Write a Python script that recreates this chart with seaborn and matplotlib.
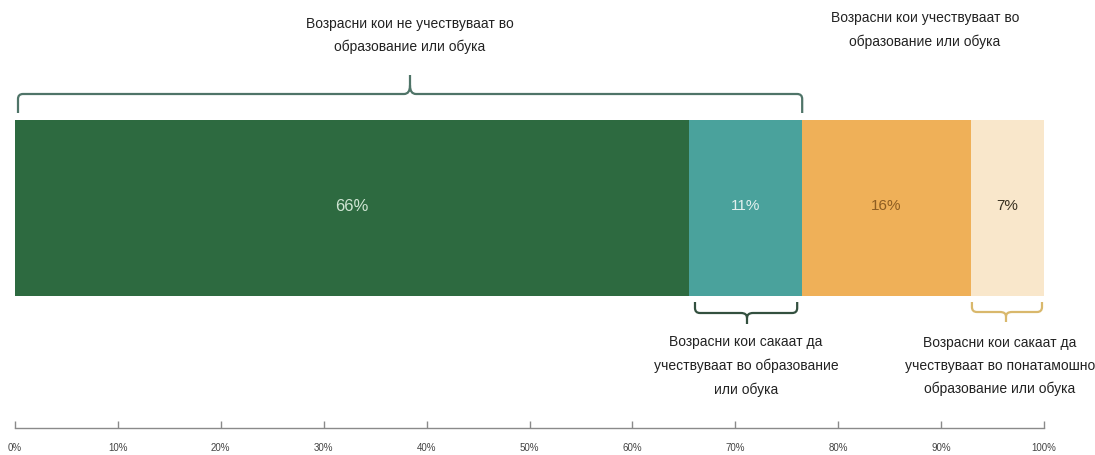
import matplotlib
matplotlib.use("Agg")
import matplotlib.pyplot as plt
from matplotlib.path import Path
from matplotlib.patches import PathPatch
import numpy as np
import pandas as pd
import seaborn as sns

# ---------------- data ----------------
segments = ["Не учествуваат", "Сакаат да учествуваат", "Учествуваат", "Сакаат понатамошно"]
values = [65.5, 11.0, 16.4, 7.1]
value_labels = ["66%", "11%", "16%", "7%"]
colors = ["#2d6a40", "#4aa29c", "#efb058", "#f9e7cb"]
label_colors = ["#cfe5d3", "#e3f1ef", "#8d5d22", "#3a3222"]
tick_values = [0, 10, 20, 30, 40, 50, 60, 70, 80, 90, 100]
tick_labels = [f"{t}%" for t in tick_values]

top_left_text = "Возрасни кои не учествуваат во\nобразование или обука"
top_right_text = "Возрасни кои учествуваат во\nобразование или обука"
bottom_mid_text = "Возрасни кои сакаат да\nучествуваат во образование\nили обука"
bottom_right_text = "Возрасни кои сакаат да\nучествуваат во понатамошно\nобразование или обука"

# ---------------- figure ----------------
sns.set_style("white")
plt.rcParams["font.family"] = ["Liberation Sans", "DejaVu Sans"]

W, H = 1095, 455
fig = plt.figure(figsize=(W / 100, H / 100), dpi=100)
ax = fig.add_axes([0, 0, 1, 1])

cum = np.cumsum(values)
df = pd.DataFrame({"grp": ["bar"] * len(segments), "segment": segments, "cum": cum})
order = list(reversed(segments))
pal = dict(zip(segments, colors))
sns.barplot(data=df, x="cum", y="grp", hue="segment", hue_order=order, dodge=False,
            palette=pal, saturation=1, width=0.8, linewidth=0, legend=False, ax=ax,
            orient="h", errorbar=None)

# pixel <-> data mapping
X0, PXU = 15.0, (1044.0 - 15.0) / 100.0
YC, PYU = 208.0, 176.0 / 0.8
ax.set_xlim(-X0 / PXU, (W - X0) / PXU)
ax.set_ylim((H - YC) / PYU, -YC / PYU)


def dx(px):
    return (px - X0) / PXU


def dy(py):
    return (py - YC) / PYU


def px_of(v):
    return X0 + v * PXU


# value labels
starts = np.concatenate([[0], cum[:-1]])
sizes = [12, 11, 11, 11]
for s, v, lab, c, fs in zip(starts, values, value_labels, label_colors, sizes):
    ax.text(s + v / 2, dy(206), lab, ha="center", va="center", fontsize=fs, color=c)


def brace(xl, xr, ybase, yline, ytip, xtip, color, r=5, tipw=6):
    """Brace in pixel coords (y downwards)."""
    sgn = 1 if yline > ybase else -1
    mid = yline + sgn * (abs(ytip - yline) * 0.45)
    pts = [
        (xl, ybase), (xl, yline - sgn * r),
        (xl, yline), (xl + r, yline),
        (xtip - tipw, yline),
        (xtip, yline), (xtip, mid),
        (xtip, ytip),
        (xtip, mid),
        (xtip, yline), (xtip + tipw, yline),
        (xr - r, yline),
        (xr, yline), (xr, yline - sgn * r),
        (xr, ybase),
    ]
    codes = [Path.MOVETO, Path.LINETO,
             Path.CURVE3, Path.CURVE3,
             Path.LINETO,
             Path.CURVE3, Path.CURVE3,
             Path.LINETO,
             Path.MOVETO,
             Path.CURVE3, Path.CURVE3,
             Path.LINETO,
             Path.CURVE3, Path.CURVE3,
             Path.LINETO]
    verts = [(dx(x), dy(y)) for x, y in pts]
    ax.add_patch(PathPatch(Path(verts, codes), fill=False, edgecolor=color, lw=1.6,
                           capstyle="butt", joinstyle="round"))


# top brace over first two segments
brace(px_of(0) + 3, px_of(cum[1]), 113, 94, 75, 410, "#4f7468")
# bottom brace under teal segment
brace(px_of(cum[0]) + 6, px_of(cum[1]) - 5, 302, 313, 324, 747, "#33503f")
# bottom brace under cream segment
brace(px_of(cum[2]) + 1, px_of(cum[3]) - 2, 302, 312, 322, 1006, "#d9b86c")

tkw = dict(ha="center", va="center", fontsize=10, color="#222222", linespacing=1.75)
ax.text(dx(410), dy(35.5), top_left_text, **tkw)
ax.text(dx(925), dy(30), top_right_text, **tkw)
bkw = dict(tkw, linespacing=1.8)
ax.text(dx(746), dy(366), bottom_mid_text, **bkw)
ax.text(dx(1000), dy(366), bottom_right_text, **bkw)

# axis
for sp in ["top", "right", "left"]:
    ax.spines[sp].set_visible(False)
ax.spines["bottom"].set_position(("data", dy(428)))
ax.spines["bottom"].set_color("#8a8a8a")
ax.spines["bottom"].set_linewidth(1.0)
ax.spines["bottom"].set_bounds(0, 100)
ax.set_xticks(tick_values)
ax.set_xticklabels(tick_labels)
ax.tick_params(axis="x", which="major", bottom=True, direction="in", length=5, width=1,
               color="#8a8a8a", labelsize=7, labelcolor="#444444", pad=11)
ax.set_yticks([])
ax.set_xlabel("")
ax.set_ylabel("")
ax.grid(False)
ax.set_facecolor("white")

fig.savefig("out.png", dpi=100, facecolor="white")
